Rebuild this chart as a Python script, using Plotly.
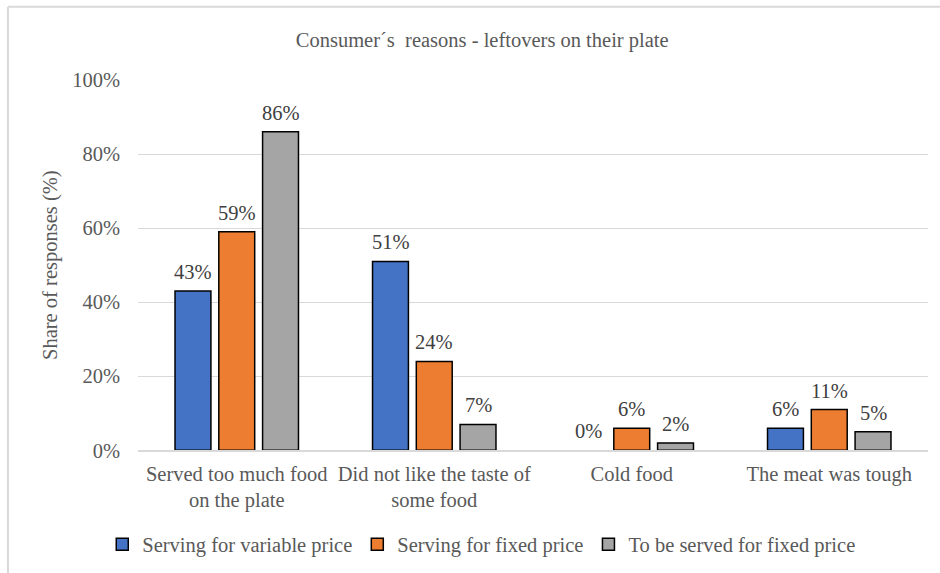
import plotly.graph_objects as go

categories = ["Served too much food<br>on the plate", "Did not like the taste of<br>some food",
              "Cold food", "The meat was tough"]
series_names = ["Serving for variable price", "Serving for fixed price", "To be served for fixed price"]
variable_price = [43, 51, 0, 6]
fixed_price = [59, 24, 6, 11]
to_be_fixed = [86, 7, 2, 5]
colors = ["#4472C4", "#ED7D31", "#A5A5A5"]
y_ticks = [0, 20, 40, 60, 80, 100]

FONT = "'Times New Roman', 'Liberation Serif', 'DejaVu Serif', serif"
AX = "#595959"
FS = 20.5
PITCH = 43.75  # px between grouped bar centres

fig = go.Figure()
all_series = [variable_price, fixed_price, to_be_fixed]
for name, vals, col in zip(series_names, all_series, colors):
    fig.add_trace(go.Bar(
        x=categories, y=vals, name=name,
        marker=dict(color=col, line=dict(color="black", width=[1.5 if v > 0 else 0 for v in vals])),
        cliponaxis=False,
    ))

for i, vals in enumerate(all_series):
    for cat, v in zip(categories, vals):
        fig.add_annotation(x=cat, y=v, text=f"{v}%", showarrow=False,
                           xshift=(i - 1) * PITCH, yshift=6, yanchor="bottom",
                           font=dict(family=FONT, size=FS, color="#404040"))

fig.update_layout(
    width=940, height=573,
    margin=dict(l=138, r=12, t=80, b=121),
    paper_bgcolor="white", plot_bgcolor="white",
    barmode="group", bargap=0.335, bargroupgap=0.18,
    font=dict(family=FONT, color=AX, size=FS),
    title=dict(text="Consumer´s  reasons - leftovers on their plate", x=0.513, xref="container",
               xanchor="center", y=0.93, yref="container", yanchor="middle",
               font=dict(family=FONT, size=FS, color=AX)),
    legend=dict(orientation="h", x=0.5125, xref="container", xanchor="center",
                y=0.05, yref="container", yanchor="middle",
                font=dict(family=FONT, size=FS, color=AX), itemwidth=30,
                traceorder="normal"),
    showlegend=True,
)
fig.update_yaxes(range=[0, 100], tickvals=y_ticks, ticktext=[f"{t}%" for t in y_ticks],
                 showgrid=True, gridcolor="#d9d9d9", gridwidth=1, zeroline=False,
                 showline=False, ticks="", ticklabelstandoff=17,
                 title=dict(text="Share of responses (%)", font=dict(family=FONT, size=FS, color=AX), standoff=8),
                 tickfont=dict(family=FONT, size=FS, color=AX))
fig.update_xaxes(showline=True, linecolor="#d9d9d9", linewidth=1.5, ticks="", ticklabelstandoff=4,
                 tickfont=dict(family=FONT, size=FS, color=AX))

# outer chart border (left and top visible)
fig.add_shape(type="line", xref="paper", yref="paper", x0=-0.1646, x1=-0.1646, y0=1.1976, y1=-0.4,
              line=dict(color="#d9d9d9", width=2))
fig.add_shape(type="line", xref="paper", yref="paper", x0=-0.1646, x1=1.1, y0=1.1976, y1=1.1976,
              line=dict(color="#d9d9d9", width=2))

fig.write_html("out.html")
